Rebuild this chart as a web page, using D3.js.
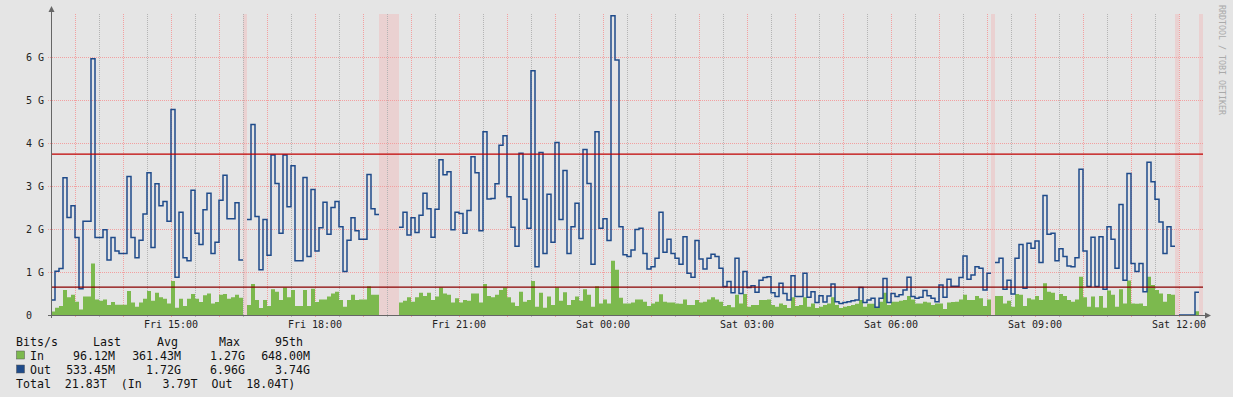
<!DOCTYPE html>
<html>
<head>
<meta charset="UTF-8">
<title>Traffic - Bits/s</title>
<script src="https://cdnjs.cloudflare.com/ajax/libs/d3/7.8.5/d3.min.js"></script>
<style type="text/css">
  body { margin: 0; background: #e5e5e5; }
  text { font-family: "DejaVu Sans Mono", monospace; white-space: pre; }
</style>
</head>
<body>
<script>
// 5 minute samples, Fri 12:30 -> Sat 12:30, values in Gbit/s (null = unknown)
var outG = [
  0.35, 1.02, 1.08, 3.19, 2.27, 2.54, 1.80, 0.61, 2.18, 2.18,
  5.96, 1.80, 1.80, 1.98, 1.28, 1.80, 1.49, 1.43, 1.43, 3.22,
  1.80, 1.33, 1.74, 2.35, 3.31, 1.57, 3.05, 2.54, 2.64, 2.18,
  4.78, 0.88, 2.39, 1.33, 1.26, 2.90, 1.90, 1.64, 2.45, 2.83,
  1.43, 1.69, 2.67, 3.25, 2.24, 2.24, 2.61, 1.28, null, 2.22,
  4.43, 2.29, 1.05, 2.22, 1.39, 3.72, 3.06, 1.90, 3.72, 2.52,
  3.47, 1.26, 1.26, 3.20, 1.36, 2.92, 1.49, 2.03, 2.62, 1.88,
  2.50, 2.64, 2.05, 1.01, 1.74, 2.26, 1.96, 1.76, 1.76, 3.27,
  2.47, 2.34, null, null, null, null, null, 2.04, 2.39, 1.86,
  2.26, 1.92, 2.32, 2.83, 2.47, 1.81, 2.46, 3.61, 3.26, 3.33,
  1.98, 2.39, 2.36, 1.90, 2.43, 3.68, 3.31, 1.96, 4.26, 2.70,
  2.71, 3.05, 3.95, 4.17, 2.75, 2.04, 1.60, 3.76, 2.69, 2.02,
  5.68, 1.12, 3.78, 1.43, 2.81, 1.69, 4.01, 2.22, 3.36, 1.43,
  2.05, 2.60, 1.78, 3.85, 3.06, 1.18, 4.26, 2.02, 2.24, 1.73,
  6.96, 5.93, 2.05, 1.40, 1.36, 1.51, 1.99, 2.02, 1.43, 1.07,
  1.12, 1.32, 2.39, 1.46, 1.76, 1.43, 1.32, 1.18, 1.82, 0.97,
  0.88, 1.73, 1.30, 1.07, 1.32, 1.41, 1.36, 1.09, 0.66, 0.78,
  0.52, 1.32, 0.50, 1.01, 0.64, 0.68, 0.53, 0.81, 0.87, 0.89,
  0.52, 0.43, 0.74, 0.50, 0.35, 0.91, 0.43, 0.43, 0.97, 0.41,
  0.54, 0.29, 0.45, 0.30, 0.44, 0.72, 0.31, 0.27, 0.29, 0.31,
  0.33, 0.35, 0.64, 0.29, 0.35, 0.39, 0.18, 0.39, 0.85, 0.29,
  0.50, 0.43, 0.47, 0.58, 0.88, 0.43, 0.39, 0.41, 0.57, 0.45,
  0.39, 0.31, 0.70, 0.41, 0.83, 0.67, 0.67, 0.87, 1.37, 0.83,
  0.93, 1.12, 1.09, 0.58, 0.97, null, 1.22, 1.32, 0.60, 0.81,
  0.49, 1.32, 1.64, 0.62, 1.67, 1.55, 1.72, 1.22, 2.78, 1.88,
  1.90, 1.26, 1.54, 1.36, 1.14, 1.12, 1.33, 3.39, 1.49, 0.66,
  1.81, 0.66, 1.82, 0.60, 2.05, 1.76, 1.09, 2.57, 0.81, 3.29,
  1.20, 1.01, 1.20, 0.54, 3.55, 3.10, 2.69, 2.16, 1.43, 2.05,
  1.60, null, 0, 0, 0, 0, 0.53, null
];
var inG = [
  0.08, 0.17, 0.21, 0.58, 0.41, 0.47, 0.31, 0.13, 0.43, 0.43,
  1.20, 0.36, 0.33, 0.36, 0.23, 0.30, 0.24, 0.24, 0.24, 0.56,
  0.29, 0.19, 0.29, 0.38, 0.56, 0.33, 0.52, 0.41, 0.38, 0.27,
  0.79, 0.17, 0.38, 0.21, 0.38, 0.49, 0.38, 0.30, 0.46, 0.50,
  0.27, 0.30, 0.47, 0.49, 0.38, 0.41, 0.47, 0.40, null, 0.23,
  0.72, 0.35, 0.16, 0.35, 0.21, 0.60, 0.54, 0.35, 0.64, 0.41,
  0.58, 0.21, 0.21, 0.58, 0.21, 0.61, 0.30, 0.36, 0.36, 0.43,
  0.50, 0.54, 0.35, 0.19, 0.35, 0.47, 0.35, 0.36, 0.36, 0.67,
  0.47, 0.47, null, null, null, null, null, 0.29, 0.33, 0.41,
  0.31, 0.41, 0.52, 0.44, 0.52, 0.35, 0.43, 0.64, 0.50, 0.47,
  0.29, 0.39, 0.29, 0.35, 0.33, 0.50, 0.50, 0.29, 0.72, 0.44,
  0.41, 0.47, 0.58, 0.64, 0.41, 0.29, 0.21, 0.54, 0.31, 0.35,
  0.79, 0.19, 0.52, 0.17, 0.43, 0.23, 0.64, 0.33, 0.53, 0.23,
  0.35, 0.43, 0.33, 0.60, 0.47, 0.19, 0.67, 0.27, 0.36, 0.27,
  1.26, 1.05, 0.40, 0.27, 0.27, 0.29, 0.36, 0.36, 0.31, 0.21,
  0.27, 0.31, 0.48, 0.31, 0.29, 0.29, 0.27, 0.26, 0.36, 0.23,
  0.23, 0.35, 0.29, 0.31, 0.36, 0.41, 0.36, 0.31, 0.21, 0.23,
  0.18, 0.47, 0.27, 0.49, 0.19, 0.23, 0.23, 0.35, 0.35, 0.36,
  0.23, 0.19, 0.27, 0.23, 0.16, 0.41, 0.21, 0.23, 0.41, 0.19,
  0.27, 0.16, 0.19, 0.23, 0.27, 0.41, 0.23, 0.16, 0.19, 0.21,
  0.23, 0.26, 0.35, 0.19, 0.26, 0.26, 0.16, 0.31, 0.52, 0.23,
  0.31, 0.31, 0.33, 0.35, 0.44, 0.36, 0.27, 0.27, 0.31, 0.29,
  0.23, 0.27, 0.27, 0.14, 0.29, 0.30, 0.31, 0.36, 0.47, 0.35,
  0.35, 0.44, 0.39, 0.21, 0.36, null, 0.44, 0.44, 0.27, 0.33,
  0.19, 0.49, 0.47, 0.21, 0.39, 0.36, 0.44, 0.35, 0.74, 0.54,
  0.52, 0.35, 0.49, 0.44, 0.35, 0.31, 0.36, 0.89, 0.41, 0.19,
  0.43, 0.18, 0.44, 0.17, 0.57, 0.47, 0.19, 0.60, 0.27, 0.80,
  0.27, 0.26, 0.27, 0.21, 0.89, 0.70, 0.58, 0.50, 0.31, 0.49,
  0.47, null, 0, 0, 0, 0, 0.09, null
];

// 95th percentile rules (G)
var pct95In = 0.648;
var pct95Out = 3.74;

var yTicks = [0, 1, 2, 3, 4, 5, 6];
var yTickLabels = ["0", "1 G", "2 G", "3 G", "4 G", "5 G", "6 G"];

var legendHead = ["Bits/s", "Last", "Avg", "Max", "95th"];
var legendNames = ["In", "Out"];
var legendIn = ["96.12M", "361.43M", "1.27G", "648.00M"];
var legendOut = ["533.45M", "1.72G", "6.96G", "3.74G"];
var totalLine = "Total  21.83T  (In   3.79T  Out  18.04T)";

var t0 = new Date(2015, 0, 2, 12, 30);   // a Friday
var t1 = new Date(2015, 0, 3, 12, 30);
var stepMs = 5 * 60 * 1000;

var W = 1233, H = 397;
var colIn = "#7cb94e", colOut = "#1f4b8a";

var svg = d3.select("body").append("svg")
    .attr("width", W)
    .attr("height", H);

svg.append("rect").attr("width", W).attr("height", H).attr("fill", "#e5e5e5");

var xScale = d3.scaleTime().domain([t0, t1]).range([51, 1203]);
var yScale = d3.scaleLinear().domain([0, 7]).range([315, 14]);

// turn per-step values into stair points (start + end of each step)
function stairs(vals) {
  var pts = [];
  vals.forEach(function(v, k) {
    var a = new Date(t0.getTime() + k * stepMs);
    var b = new Date(t0.getTime() + (k + 1) * stepMs);
    pts.push({t: a, v: v});
    pts.push({t: b, v: v});
  });
  return pts;
}

// unknown bands
var unknown = [];
inG.forEach(function(v, k) { if (v === null) unknown.push(k); });
svg.append("g").selectAll("rect")
    .data(unknown)
  .enter().append("rect")
    .attr("x", function(k) { return xScale(new Date(t0.getTime() + k * stepMs)); })
    .attr("width", function(k) { return xScale(new Date(t0.getTime() + (k + 1) * stepMs)) - xScale(new Date(t0.getTime() + k * stepMs)); })
    .attr("y", yScale(7))
    .attr("height", yScale(0) - yScale(7))
    .attr("fill", "rgba(255,140,140,0.22)");

// grid
var minor = d3.timeMinute.every(30).range(t0, t1).filter(function(d) { return d.getMinutes() !== 0; });
var major = d3.timeHour.range(t0, t1);

svg.append("g").selectAll("line")
    .data(minor)
  .enter().append("line")
    .attr("x1", function(d) { return Math.round(xScale(d)) + 0.5; })
    .attr("x2", function(d) { return Math.round(xScale(d)) + 0.5; })
    .attr("y1", yScale(7)).attr("y2", yScale(0) + 3)
    .attr("stroke", "#b4b4b4")
    .attr("stroke-dasharray", "1,1");

svg.append("g").selectAll("line")
    .data(major)
  .enter().append("line")
    .attr("x1", function(d) { return Math.round(xScale(d)) + 0.5; })
    .attr("x2", function(d) { return Math.round(xScale(d)) + 0.5; })
    .attr("y1", yScale(7)).attr("y2", yScale(0) + 3)
    .attr("stroke", "#f2a0a0")
    .attr("stroke-dasharray", "1,1");

svg.append("g").selectAll("line")
    .data(yTicks.slice(1))
  .enter().append("line")
    .attr("x1", 48).attr("x2", 1203)
    .attr("y1", function(d) { return Math.round(yScale(d)) + 0.5; })
    .attr("y2", function(d) { return Math.round(yScale(d)) + 0.5; })
    .attr("stroke", "#f2a0a0")
    .attr("stroke-dasharray", "1,1");

// In area
var inPts = stairs(inG);
svg.append("path")
    .datum(inPts)
    .attr("fill", colIn)
    .attr("d", d3.area()
        .defined(function(d) { return d.v !== null; })
        .x(function(d) { return xScale(d.t); })
        .y0(yScale(0))
        .y1(function(d) { return yScale(d.v); }));

// Out line
var outPts = stairs(outG);
svg.append("path")
    .datum(outPts)
    .attr("fill", "none")
    .attr("stroke", colOut)
    .attr("stroke-width", 1.5)
    .attr("d", d3.line()
        .defined(function(d) { return d.v !== null; })
        .x(function(d) { return xScale(d.t); })
        .y(function(d) { return yScale(d.v); }));

// 95th rules
svg.append("line")
    .attr("x1", 51).attr("x2", 1203)
    .attr("y1", yScale(pct95Out)).attr("y2", yScale(pct95Out))
    .attr("stroke", "#c00000").attr("stroke-width", 1.2);
svg.append("line")
    .attr("x1", 51).attr("x2", 1203)
    .attr("y1", yScale(pct95In)).attr("y2", yScale(pct95In))
    .attr("stroke", "#8a0000").attr("stroke-width", 1.2);

// axes
var axisCol = "#666";
svg.append("line").attr("x1", 51.5).attr("x2", 51.5).attr("y1", 318).attr("y2", 10).attr("stroke", axisCol);
svg.append("path").attr("d", "M48.5,12 L51.5,6 L54.5,12 Z").attr("fill", axisCol);
svg.append("line").attr("x1", 48).attr("x2", 1207).attr("y1", 315.5).attr("y2", 315.5).attr("stroke", axisCol);
svg.append("path").attr("d", "M1205,312.5 L1211,315.5 L1205,318.5 Z").attr("fill", axisCol);

// y labels
svg.append("g").selectAll("text")
    .data(yTicks)
  .enter().append("text")
    .attr("x", 26)
    .attr("y", function(d) { return yScale(d) + 3.5; })
    .attr("font-size", "10px")
    .attr("fill", "#222")
    .text(function(d, i) { return yTickLabels[i]; });

// x labels
var fmt = d3.timeFormat("%a %H:%M");
svg.append("g").selectAll("text")
    .data(d3.timeHour.every(3).range(t0, t1))
  .enter().append("text")
    .attr("x", function(d) { return xScale(d); })
    .attr("y", 328)
    .attr("text-anchor", "middle")
    .attr("font-size", "10px")
    .attr("fill", "#222")
    .text(function(d) { return fmt(d); });

// watermark
svg.append("text")
    .attr("transform", "translate(1219,5) rotate(90)")
    .attr("font-size", "8.3px")
    .attr("fill", "#aaa")
    .text("RRDTOOL / TOBI OETIKER");

// legend
var lg = svg.append("g").attr("font-size", "11.6px").attr("fill", "#111");
var headX = [16, 93, 157, 219, 275];
legendHead.forEach(function(s, i) {
  lg.append("text").attr("x", headX[i]).attr("y", 345.5).text(s);
});
var valX = [115, 181, 245, 310];
[legendIn, legendOut].forEach(function(row, r) {
  var yy = 359.5 + r * 14;
  lg.append("rect")
      .attr("x", 16.5).attr("y", yy - 8.5)
      .attr("width", 8).attr("height", 8)
      .attr("fill", r === 0 ? colIn : colOut)
      .attr("stroke", "#555").attr("stroke-width", 0.5);
  lg.append("text").attr("x", 30).attr("y", yy).text(legendNames[r]);
  row.forEach(function(s, i) {
    lg.append("text").attr("x", valX[i]).attr("y", yy).attr("text-anchor", "end").text(s);
  });
});
lg.append("text").attr("x", 16).attr("y", 387.5).text(totalLine);
</script>
</body>
</html>
